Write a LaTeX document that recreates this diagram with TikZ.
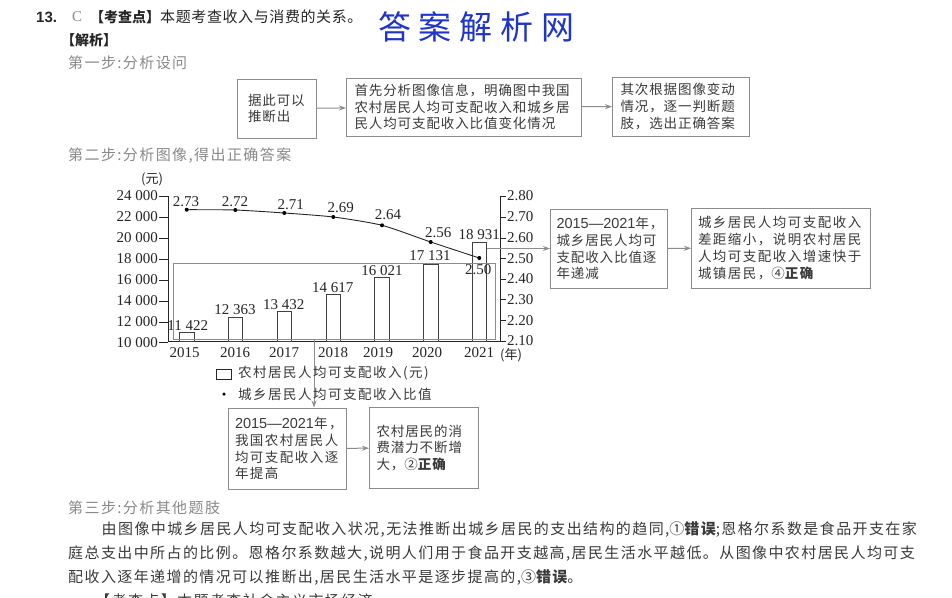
\documentclass[tikz,border=0pt]{standalone}
\usepackage{fontspec}
\setmainfont{Liberation Serif}
\newfontfamily\cjkbody[LetterSpace=9.4]{Noto Sans CJK SC}
\newfontfamily\cjkhead[LetterSpace=4]{Noto Sans CJK SC}
\newfontfamily\cjkbox[LetterSpace=6.7]{Noto Sans CJK SC}
\newfontfamily\cjkwide[LetterSpace=11]{Noto Sans CJK SC}
\newfontfamily\cjkmark{Noto Sans CJK SC}
\newfontfamily\headnum{Liberation Sans}
\newcommand{\widecomma}{\symbol{"FF0C}}
\newcommand{\boxyears}{\mbox{{\fontsize{14.5}{16}\selectfont\headnum 2015—2021}年\widecomma}}
\definecolor{inkgray}{HTML}{3A3A3A}
\definecolor{stepgray}{HTML}{8A8A8A}
\definecolor{framegray}{HTML}{8C8C8C}
\definecolor{markblue}{HTML}{1F35C8}
\tikzset{
  flowbox/.style={draw=framegray, line width=1pt, inner sep=0pt, align=left, text=inkgray,
    font=\fontsize{13.5}{16.8}\selectfont\cjkbox},
  flowarrow/.style={draw=framegray, line width=1pt, -{Stealth[length=7pt,width=5pt]}},
  steptext/.style={anchor=west, inner sep=0pt, text=stepgray, font=\fontsize{15}{16}\selectfont\cjkbody},
  bodytext/.style={anchor=west, inner sep=0pt, text=inkgray, font=\fontsize{15}{16}\selectfont\cjkbody},
  numtext/.style={inner sep=0pt, text=black!85, font=\fontsize{15}{16}\selectfont},
  incomebar/.style={draw=black!75, line width=0.9pt},
  ratiodot/.style={circle, fill=black, inner sep=0pt, minimum size=4pt},
}
\usetikzlibrary{arrows.meta}
\begin{document}
\begin{tikzpicture}[x=1pt,y=-1pt]
\useasboundingbox[fill=white] (0,0) rectangle (952,597);

% Header
\node[numtext, anchor=west, font=\fontsize{15}{16}\selectfont\headnum\bfseries] (qnum) at (36,17) {13.};
\node[numtext, anchor=west, text=stepgray] (qkey) at (72,17) {C};
\node[bodytext, text=black!85, font=\fontsize{15}{16}\selectfont\cjkhead] (qhead) at (90,17) {{\fontsize{14}{16}\selectfont\cjkmark\bfseries 【考查点】}本题考查收入与消费的关系。};
\node[bodytext, text=black!85, font=\fontsize{14}{16}\selectfont\cjkmark\bfseries] (qparse) at (61,40) {【解析】};
\node[anchor=center, inner sep=0pt, text=markblue, font=\fontsize{33}{36}\selectfont\cjkmark] (qmark) at (476.5,27) {答\hspace{8pt}案\hspace{8pt}解\hspace{8pt}析\hspace{8pt}网};
\node[steptext] (stepone) at (68,63) {第一步:分析设问};
\node[steptext] (steptwo) at (68,156) {第二步:分析图像,得出正确答案};
\node[steptext] (stepthree) at (68,507.5) {第三步:分析其他题肢};

% Top flow
\node[flowbox, minimum width=79pt, minimum height=59pt, text width=57pt] (infer) at (276.5,108.5) {据此可以\\推断出};
\node[flowbox, minimum width=235pt, minimum height=58pt, text width=219pt] (first) at (464,107) {首先分析图像信息\widecomma 明确图中我国\\农村居民人均可支配收入和城乡居\\民人均可支配收入比值变化情况};
\node[flowbox, minimum width=137pt, minimum height=59pt, text width=121pt] (then) at (681,106.5) {其次根据图像变动\\情况\widecomma 逐一判断题\\肢\widecomma 选出正确答案};
\draw[flowarrow] (infer) -- (first);
\draw[flowarrow] (first) -- (then);

% Axis
\draw[line width=0.9pt, black!85] (168,196)--(168,341.5)--(500,341.5)--(500,196);
\foreach \ty/\tlabel in {196/24 000,217/22 000,238/20 000,259/18 000,280/16 000,301/14 000,322/12 000,342.5/10 000}{
  \draw[line width=0.8pt, black!85] (159,\ty)--(168,\ty);
  \node[numtext, anchor=east] at (158,\ty) {\tlabel};
}
\foreach \ty/\tlabel in {196/2.80,217/2.70,238/2.60,258.5/2.50,279/2.40,299.5/2.30,320.5/2.20,341/2.10}{
  \draw[line width=0.8pt, black!85] (500,\ty)--(506,\ty);
  \node[numtext, anchor=west] at (507,\ty) {\tlabel};
}
\node[numtext, font=\fontsize{13}{14}\selectfont\cjkmark] (unitleft) at (152,179) {(元)};
\node[numtext, font=\fontsize{13}{14}\selectfont\cjkmark] (unitright) at (511,355) {(年)};

% Bars
\foreach \bx/\btop/\blabel/\lx/\ly/\byear/\yx in {186.7/332.7/11 422/187.7/326/2015/184.7,235.3/317.3/12 363/235/310/2016/235,284.3/311.7/13 432/283.7/305/2017/284,333.3/294.7/14 617/332.7/288/2018/333,382/277.7/16 021/382/271/2019/378,430.7/264.7/17 131/430/255.7/2020/427,479.3/242.7/18 931/479.3/234.3/2021/479}{
  \draw[incomebar] (\bx-7.3,341.5) rectangle (\bx+7.3,\btop);
  \node[numtext] at (\lx,\ly) {\blabel};
  \node[numtext] at (\yx,352.7) {\byear};
}

% Ratio line
\draw[line width=0.9pt, black!85] plot[smooth, tension=0.4] coordinates {(186.7,209.7) (235.3,210) (284.3,213) (333.3,217) (382,225.3) (430.7,242) (479.3,258)};
\foreach \px/\py/\plabel/\lx/\ly in {186.7/209.7/2.73/186/201.7,235.3/210/2.72/235/201.7,284.3/213/2.71/290.7/204.3,333.3/217/2.69/340.7/207.7,382/225.3/2.64/388/214.3,430.7/242/2.56/438.3/232.7,479.3/258/2.50/478.3/269.3}{
  \node[ratiodot] at (\px,\py) {};
  \node[numtext] at (\lx,\ly) {\plabel};
}

% Highlight and its connectors
\node[draw=framegray, line width=1pt, inner sep=0pt, minimum width=322pt, minimum height=76pt] (bandbox) at (334,301) {};
\node[flowbox, minimum width=117pt, minimum height=79pt, text width=105pt] (ratiofall) at (609,248.5) {\boxyears\\城乡居民人均可\\支配收入比值逐\\年递减};
\node[flowbox, minimum width=179pt, minimum height=80pt, text width=166pt, font=\fontsize{13.5}{16.8}\selectfont\cjkwide] (gapfall) at (781,248) {城乡居民人均可支配收入\\差距缩小\widecomma 说明农村居民\\人均可支配收入增速快于\\城镇居民\widecomma{\cjkmark ④}{\bfseries 正确}};
\node[flowbox, minimum width=118pt, minimum height=81pt, text width=104pt, font=\fontsize{13.5}{16.8}\selectfont\cjkwide] (ruralrise) at (287,448.5) {\boxyears\\我国农村居民人\\均可支配收入逐\\年提高};
\node[flowbox, minimum width=109pt, minimum height=81pt, text width=95pt] (potential) at (424,448) {农村居民的消\\费潜力不断增\\大\widecomma{\cjkmark ②}{\bfseries 正确}};
\coordinate (ratiostart) at (487,248.5);
\coordinate (risestart) at (314,339);
\draw[flowarrow] (ratiostart) -- (ratiofall);
\draw[flowarrow] (ratiofall) -- (gapfall);
\draw[flowarrow] (risestart) -- (risestart |- ruralrise.north);
\draw[flowarrow] (ruralrise) -- (potential);

% Legend
\draw[line width=0.8pt, black!85] (216.7,369.3) rectangle (231.7,379);
\node[bodytext, font=\fontsize{13.5}{14}\selectfont\cjkwide] (legendbar) at (238,373) {农村居民人均可支配收入(元)};
\node[ratiodot, minimum size=3.5pt] (legenddot) at (224,394) {};
\node[bodytext, font=\fontsize{13.5}{14}\selectfont\cjkwide] (legendline) at (238,394) {城乡居民人均可支配收入比值};

% Paragraph
\node[bodytext] (paraone) at (101.5,530) {由图像中城乡居民人均可支配收入状况,无法推断出城乡居民的支出结构的趋同,{\cjkmark ①}{\bfseries 错误};恩格尔系数是食品开支在家};
\node[bodytext] (paratwo) at (68,554) {庭总支出中所占的比例。恩格尔系数越大,说明人们用于食品开支越高,居民生活水平越低。从图像中农村居民人均可支};
\node[bodytext] (parathree) at (68,578) {配收入逐年递增的情况可以推断出,居民生活水平是逐步提高的,{\cjkmark ③}{\bfseries 错误}。};
\node[bodytext] (parafour) at (95,600.5) {【考查点】本题考查社会主义市场经济};
\end{tikzpicture}
\end{document}
